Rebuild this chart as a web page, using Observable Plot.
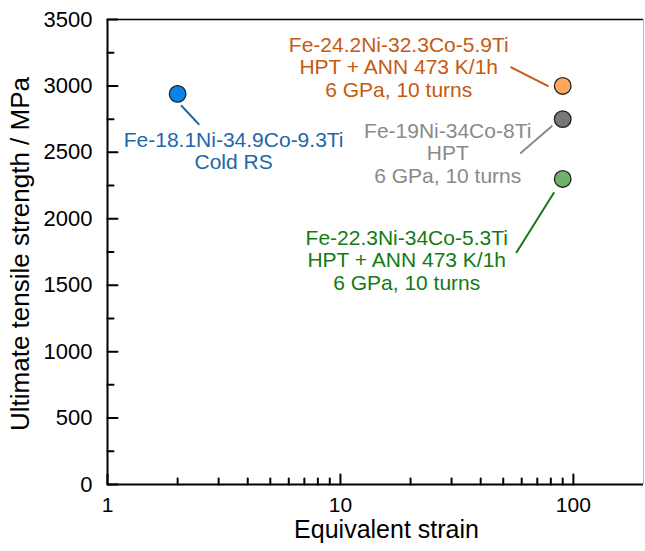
<!DOCTYPE html>
<html>
<head>
<meta charset="utf-8">
<script src="https://cdn.jsdelivr.net/npm/d3@7"></script>
<script src="https://cdn.jsdelivr.net/npm/@observablehq/plot@0.6"></script>
<style>
  body { margin: 0; background: #fff; }
  #chart { width: 645px; height: 551px; }
</style>
</head>
<body>
<div id="chart"></div>
<script>
// Alloys, processing routes and their strength vs. equivalent strain
const alloys = ["Fe-18.1Ni-34.9Co-9.3Ti", "Fe-24.2Ni-32.3Co-5.9Ti", "Fe-19Ni-34Co-8Ti", "Fe-22.3Ni-34Co-5.3Ti"];
const routes = ["Cold RS", "HPT + ANN 473 K/1h\n6 GPa, 10 turns", "HPT\n6 GPa, 10 turns", "HPT + ANN 473 K/1h\n6 GPa, 10 turns"];
const strain = [2, 90, 90, 90];
const uts = [2940, 3000, 2750, 2300];

// Axis ticks
const xMajor = [1, 10, 100];
const xMinor = [2, 3, 4, 5, 6, 7, 8, 9, 20, 30, 40, 50, 60, 70, 80, 90];
const yMajor = [0, 500, 1000, 1500, 2000, 2500, 3000, 3500];
const yMinor = [250, 750, 1250, 1750, 2250, 2750, 3250];
const xTitle = "Equivalent strain";
const yTitle = "Ultimate tensile strength / MPa";

// Layout
const W = 645, H = 551;
const M = {top: 19, right: 2, bottom: 67, left: 107};
const font = '"Liberation Sans", Arial, Helvetica, sans-serif';

// Per-sample styling: marker fill, label colour, label offset and leader line
const looks = [
  {fill: "#0a84e6", ink: "#1d67a8", line: "#1d5f95", label: [56, 57],   lead: {dx: 4,   dy: 12, rotate: 137, length: 25}},
  {fill: "#ffa75e", ink: "#c55a11", line: "#c55a11", label: [-164, -19], lead: {dx: -15, dy: 0,  rotate: 297, length: 41}},
  {fill: "#777777", ink: "#8a8a8a", line: "#8a8a8a", label: [-115, 34],  lead: {dx: -11, dy: 7,  rotate: 229, length: 41}},
  {fill: "#6db36a", ink: "#137a13", line: "#137a13", label: [-156, 81],  lead: {dx: -9,  dy: 14, rotate: 212, length: 70}}
];

const samples = alloys.map((alloy, i) => ({alloy, route: routes[i], strain: strain[i], uts: uts[i]}));

// Straight segment drawn from the vector's start point (used for leaders and ticks)
const segment = {draw(ctx, l) { ctx.moveTo(0, 0); ctx.lineTo(0, -l); }};

const tickStyle = {anchor: "start", shape: segment, stroke: "#000", strokeWidth: 2};

const marks = [
  // inward ticks on the left and bottom axes
  Plot.vector(yMinor, {y: d => d, frameAnchor: "left", rotate: 90, length: 6, ...tickStyle}),
  Plot.vector(yMajor, {y: d => d, frameAnchor: "left", rotate: 90, length: 10, ...tickStyle}),
  Plot.vector(xMinor, {x: d => d, frameAnchor: "bottom", rotate: 0, length: 6, ...tickStyle}),
  Plot.vector(xMajor, {x: d => d, frameAnchor: "bottom", rotate: 0, length: 10, ...tickStyle}),
  // frame
  Plot.ruleY([yMajor[yMajor.length - 1]], {y: d => d, stroke: "#000", strokeWidth: 1.5}),
  Plot.ruleX([200], {x: d => d, stroke: "#bbb", strokeWidth: 1}),
  Plot.ruleX([xMajor[0]], {x: d => d, stroke: "#000", strokeWidth: 2}),
  Plot.ruleY([yMajor[0]], {y: d => d, stroke: "#000", strokeWidth: 2}),
  // tick labels
  Plot.axisY(yMajor, {tickSize: 0, tickPadding: 15, fontSize: 22, label: null, fill: "#000", tickFormat: d => String(d)}),
  Plot.axisX(xMajor, {tickSize: 0, tickPadding: 13, fontSize: 21, label: null, fill: "#000", tickFormat: d => String(d)}),
  // axis titles
  Plot.text([xTitle], {text: d => d, frameAnchor: "bottom", textAnchor: "middle", lineAnchor: "middle", dy: 45, dx: 11, fontSize: 25, fill: "#000"}),
  Plot.text([yTitle], {text: d => d, frameAnchor: "left", textAnchor: "middle", lineAnchor: "middle", rotate: -90, dx: -87, dy: 2, fontSize: 26, fill: "#000"})
];

samples.forEach((s, i) => {
  const look = looks[i];
  marks.push(
    Plot.vector([s], {
      x: "strain", y: "uts", anchor: "start", shape: segment,
      rotate: look.lead.rotate, length: look.lead.length,
      dx: look.lead.dx, dy: look.lead.dy,
      stroke: look.line, strokeWidth: 2
    }),
    Plot.dot([s], {x: "strain", y: "uts", r: 8.3, fill: look.fill, stroke: "#222", strokeWidth: 1.3}),
    Plot.text([s], {
      x: "strain", y: "uts", text: d => d.alloy + "\n" + d.route,
      dx: look.label[0], dy: look.label[1],
      fill: look.ink, fontSize: 21, lineHeight: 1.07, textAnchor: "middle", lineAnchor: "middle"
    })
  );
});

const chart = Plot.plot({
  width: W,
  height: H,
  marginTop: M.top,
  marginRight: M.right,
  marginBottom: M.bottom,
  marginLeft: M.left,
  style: {fontFamily: font, background: "#fff", color: "#000"},
  x: {type: "log", domain: [1, 200]},
  y: {type: "linear", domain: [0, 3500]},
  marks
});

document.getElementById("chart").appendChild(chart);
</script>
</body>
</html>
